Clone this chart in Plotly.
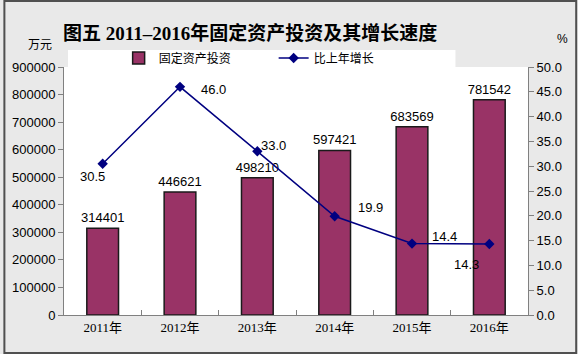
import plotly.graph_objects as go

years = ["2011年", "2012年", "2013年", "2014年", "2015年", "2016年"]
investment = [314401, 446621, 498210, 597421, 683569, 781542]
growth = [30.5, 46.0, 33.0, 19.9, 14.4, 14.3]
growth_labels = ["30.5", "46.0", "33.0", "19.9", "14.4", "14.3"]
left_ticks = [0, 100000, 200000, 300000, 400000, 500000, 600000, 700000, 800000, 900000]
right_ticks = [0, 5, 10, 15, 20, 25, 30, 35, 40, 45, 50]

# pixel offsets for line labels (style)
lab_dx = [-10, 33, 16, 36, 32, -23]
lab_dy = [-13, -3, 6, 9, 7, -20]

W, H = 578, 354
ml, mr, mt, mb = 61, 50, 67, 39
pw, ph = W - ml - mr, H - mt - mb

def px_x(p):
    return (p - ml) / pw

def px_y(p):
    return (H - mb - p) / ph

sans = "Liberation Sans, Arial, Noto Sans CJK SC, sans-serif"
serif = "Liberation Serif, Noto Sans CJK SC, serif"

fig = go.Figure()
fig.add_trace(go.Bar(
    x=years, y=investment, name="固定资产投资",
    marker=dict(color="#993366", line=dict(color="#1a1a1a", width=1.5)),
    width=0.41,
    text=[str(v) for v in investment], textposition="outside",
    constraintext="none",
    textfont=dict(family=sans, size=13, color="#000000"),
    cliponaxis=False,
    yaxis="y",
))
fig.add_trace(go.Scatter(
    x=years, y=growth, name="比上年增长", mode="lines+markers",
    line=dict(color="#000080", width=1.5),
    marker=dict(symbol="diamond", size=8, color="#000080"),
    yaxis="y2",
))

annotations = []
for yr, g, t, dx, dy in zip(years, growth, growth_labels, lab_dx, lab_dy):
    annotations.append(dict(
        x=yr, y=g, xref="x", yref="y2", text=t, showarrow=False,
        xshift=dx, yshift=dy, xanchor="center", yanchor="middle",
        font=dict(family=sans, size=13, color="#000000"),
    ))
annotations += [
    dict(text="<b>图五 2011–2016年固定资产投资及其增长速度</b>", x=px_x(248), y=px_y(33),
         xref="paper", yref="paper", showarrow=False, xanchor="center", yanchor="middle",
         font=dict(family=serif, size=19, color="#000000")),
    dict(text="万元", x=px_x(37), y=px_y(44), xref="paper", yref="paper", showarrow=False,
         xanchor="center", yanchor="middle",
         font=dict(family="Noto Sans CJK SC", size=12, color="#000000")),
    dict(text="%", x=px_x(563), y=px_y(39), xref="paper", yref="paper", showarrow=False,
         xanchor="center", yanchor="middle",
         font=dict(family=sans, size=12, color="#000000")),
]

shapes = [
    dict(type="rect", xref="paper", yref="paper", layer="below",
         x0=px_x(65), x1=px_x(455), y0=px_y(50), y1=px_y(68),
         fillcolor="#ffffff", line=dict(width=0)),
    dict(type="rect", xref="paper", yref="paper",
         x0=px_x(1), x1=px_x(576.5), y0=px_y(1), y1=px_y(353),
         fillcolor="rgba(0,0,0,0)", line=dict(color="#505050", width=2)),
]

fig.update_layout(
    width=W, height=H,
    margin=dict(l=ml, r=mr, t=mt, b=mb),
    paper_bgcolor="#e9e9e9",
    plot_bgcolor="#ffffff",
    showlegend=True,
    legend=dict(orientation="h", x=px_x(116), y=px_y(58), xanchor="left", yanchor="middle",
                bgcolor="rgba(0,0,0,0)", font=dict(family="Noto Sans CJK SC", size=12, color="#000000"),
                entrywidth=110, entrywidthmode="pixels", itemwidth=30,
                traceorder="normal"),
    bargap=0.59,
    xaxis=dict(type="category", showline=True, linecolor="#808080", linewidth=1,
               ticks="inside", tickson="boundaries", ticklen=5, tickcolor="#808080",
               tickfont=dict(family=serif, size=13, color="#000000"),
               showgrid=False, zeroline=False),
    yaxis=dict(range=[0, 900000], tickvals=left_ticks, ticktext=[str(v) for v in left_ticks],
               showline=True, linecolor="#808080", linewidth=1, ticks="outside", ticklen=5,
               tickcolor="#808080", tickfont=dict(family=sans, size=13, color="#000000"),
               showgrid=False, zeroline=False),
    yaxis2=dict(range=[0, 50], overlaying="y", side="right", tickvals=right_ticks,
                ticktext=[f"{v:.1f}" for v in right_ticks],
                showline=True, linecolor="#808080", linewidth=1, ticks="outside", ticklen=5,
                tickcolor="#808080", tickfont=dict(family=sans, size=13, color="#000000"),
                showgrid=False, zeroline=False),
    annotations=annotations,
    shapes=shapes,
)

fig.write_html("out.html")
